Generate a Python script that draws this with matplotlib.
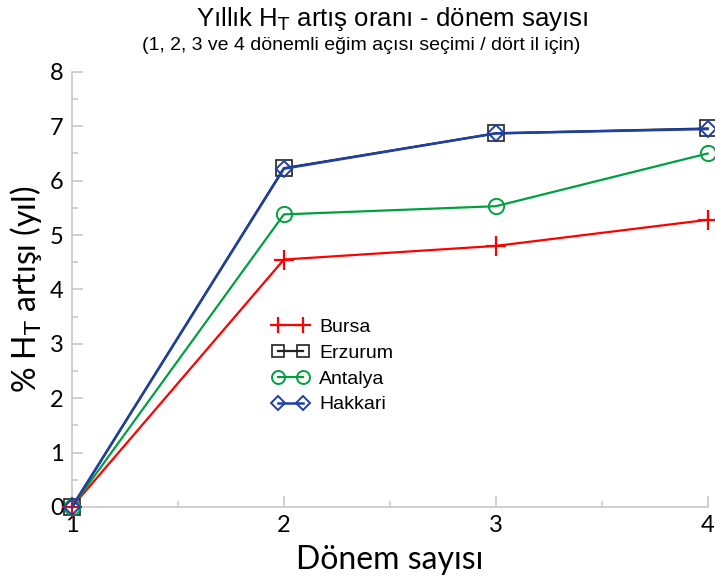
import matplotlib
matplotlib.use("Agg")
import matplotlib.pyplot as plt
from matplotlib.ticker import MultipleLocator

periods = [1, 2, 3, 4]
bursa = [0, 4.55, 4.80, 5.28]
erzurum = [0, 6.23, 6.87, 6.96]
antalya = [0, 5.38, 5.53, 6.50]
hakkari = [0, 6.22, 6.87, 6.95]

fig = plt.figure(figsize=(7.15, 5.80), dpi=100)
ax = fig.add_axes([0.1007, 0.126, 0.889, 0.750])

grey = "#c8c8c8"
ax.plot(periods, bursa, color="#ff0000", lw=1.6, marker="+", ms=14, mew=1.6,
        label="Bursa", clip_on=False, zorder=3)
ax.plot(periods, erzurum, color="#222222", lw=1.6, marker="s", ms=11, mew=1.2,
        mfc="none", label="Erzurum", clip_on=False, zorder=3)
ax.plot(periods, antalya, color="#00a040", lw=1.6, marker="o", ms=11, mew=1.4,
        mfc="none", label="Antalya", clip_on=False, zorder=3)
ax.plot(periods, hakkari, color="#1f3fa8", lw=1.8, marker="D", ms=8, mew=1.4,
        mfc="none", label="Hakkari", clip_on=False, zorder=4)

ax.set_xlim(1, 4)
ax.set_ylim(0, 8)
ax.xaxis.set_major_locator(MultipleLocator(1))
ax.xaxis.set_minor_locator(MultipleLocator(0.5))
ax.yaxis.set_major_locator(MultipleLocator(1))
ax.yaxis.set_minor_locator(MultipleLocator(0.5))

for s in ["top", "right"]:
    ax.spines[s].set_visible(False)
for s in ["left", "bottom"]:
    ax.spines[s].set_color(grey)
    ax.spines[s].set_linewidth(1.2)

tickfont = "Lato"
ax.tick_params(axis="both", which="major", direction="in", length=8, color=grey,
               width=1.2, labelsize=17, pad=6)
ax.tick_params(axis="both", which="minor", direction="in", length=4, color=grey,
               width=1.2)
for lab in ax.get_xticklabels() + ax.get_yticklabels():
    lab.set_family(tickfont)

ax.set_xlabel("Dönem sayısı", fontsize=23, family="Lato", labelpad=6)
ax.set_ylabel("% H$_\\mathsf{T}$ artışı (yıl)", fontsize=23, family="Lato", labelpad=4)

fig.text(0.548, 0.968, "Yıllık H$_\\mathsf{T}$ artış oranı - dönem sayısı", ha="center",
         va="center", fontsize=18.5, family="Liberation Sans")
fig.text(0.505, 0.922, "(1, 2, 3 ve 4 dönemli eğim açısı seçimi / dört il için)",
         ha="center", va="center", fontsize=14, family="Liberation Sans")

handles, labels = ax.get_legend_handles_labels()
leg = fig.legend(handles=handles, labels=labels,
                 loc="upper left", bbox_to_anchor=(0.380, 0.451), frameon=False,
                 handlelength=1.9, handletextpad=0.55, labelspacing=0.42,
                 borderpad=0, borderaxespad=0, numpoints=2, markerscale=0.85,
                 prop={"family": "Liberation Sans", "size": 14})

fig.savefig("out.png", dpi=100)
